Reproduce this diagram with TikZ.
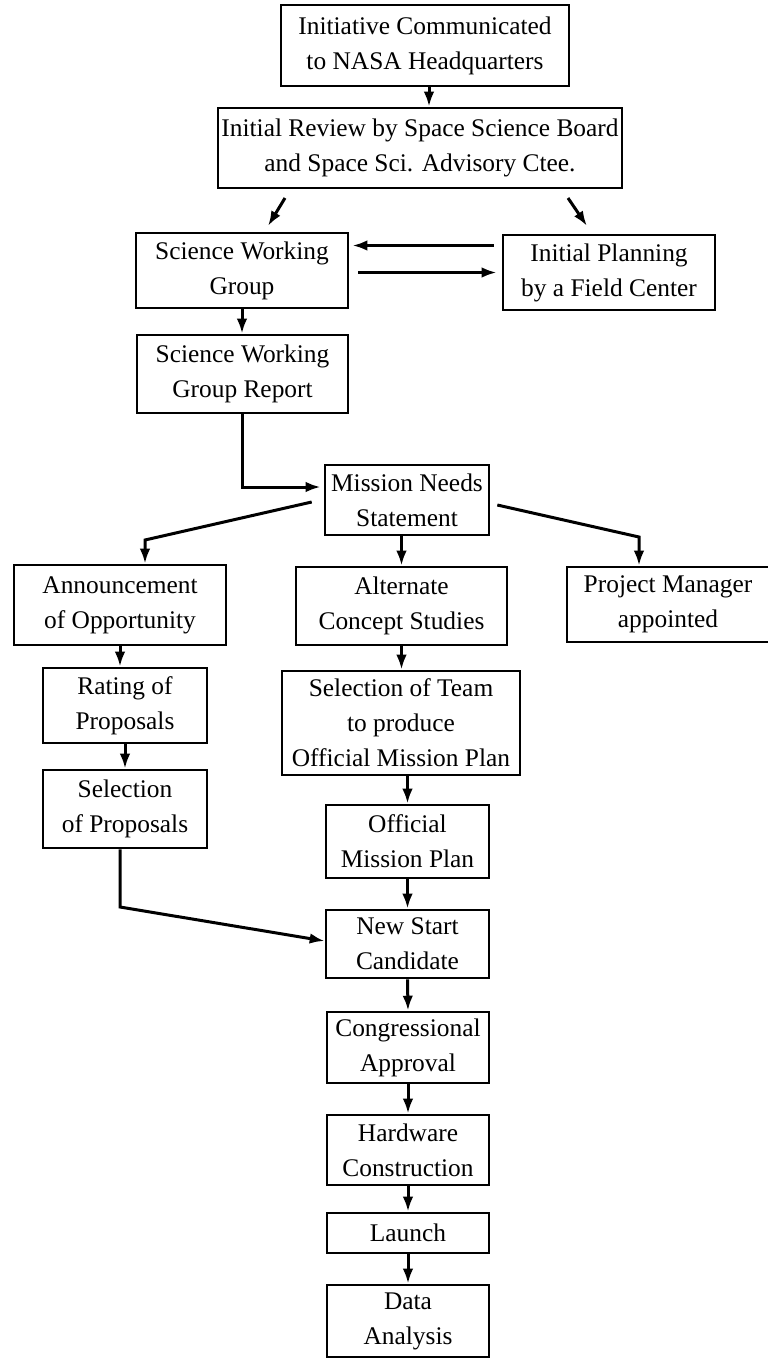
\documentclass[tikz,border=0pt]{standalone}
\usepackage{fontspec}
\setmainfont{Liberation Serif}
\usetikzlibrary{arrows.meta,calc}
\tikzset{every picture/.style={line width=2.6pt},
  stagebox/.style={draw, line width=2.6pt, inner sep=0pt, align=center,
    font=\fontsize{25.4}{35}\selectfont},
  flow/.style={line width=3pt, -{Latex[length=15pt,width=10.5pt]}}}

\begin{document}
\begin{tikzpicture}[x=1pt, y=-1pt]
    \useasboundingbox (0,0) rectangle (768,1360);

    % Anfang
    \node[stagebox, minimum width=288pt, minimum height=81pt] (init) at (425,45.5) {Initiative Communicated\\to NASA Headquarters};
    \node[stagebox, minimum width=404pt, minimum height=80pt] (review) at (420,148) {Initial Review by Space Science Board\\and Space Sci. Advisory Ctee.};
    \node[stagebox, minimum width=212pt, minimum height=75pt] (swg) at (242,270.5) {Science Working\\Group};
    \node[stagebox, minimum width=212pt, minimum height=75pt] (plan) at (609,272.5) {Initial Planning\\by a Field Center};
    \node[stagebox, minimum width=211pt, minimum height=78pt] (swgrep) at (242.5,374) {Science Working\\Group Report};
    \node[stagebox, minimum width=164pt, minimum height=70pt] (mission) at (407,500) {Mission Needs\\Statement};

    % drei Zweige
    \node[stagebox, minimum width=212pt, minimum height=80pt] (ann) at (120,605) {Announcement\\of Opportunity};
    \node[stagebox, minimum width=211pt, minimum height=78pt] (alt) at (401.5,606) {Alternate\\Concept Studies};
    \node[stagebox, minimum width=202pt, minimum height=75pt] (pm) at (668,604.5) {Project Manager\\appointed};
    \node[stagebox, minimum width=164pt, minimum height=75pt] (rating) at (125,705.5) {Rating of\\Proposals};
    \node[stagebox, minimum width=164pt, minimum height=78pt] (selprop) at (125,809) {Selection\\of Proposals};
    \node[stagebox, minimum width=238pt, minimum height=104pt] (team) at (401,723) {Selection of Team\\to produce\\Official Mission Plan};
    \node[stagebox, minimum width=163pt, minimum height=73pt] (omp) at (407.5,841.5) {Official\\Mission Plan};

    % Hauptkette
    \node[stagebox, minimum width=163pt, minimum height=68pt] (newstart) at (407.5,944) {New Start\\Candidate};
    \node[stagebox, minimum width=162pt, minimum height=71pt] (congress) at (408,1047.5) {Congressional\\Approval};
    \node[stagebox, minimum width=162pt, minimum height=70pt] (hardware) at (408,1150) {Hardware\\Construction};
    \node[stagebox, minimum width=162pt, minimum height=40pt] (launch) at (408,1233) {Launch};
    \node[stagebox, minimum width=162pt, minimum height=72pt] (data) at (408,1321) {Data\\Analysis};

    % Knickpunkte
    \coordinate (a1) at (285,198);
    \coordinate (a2) at (268,226);
    \coordinate (b1) at (568,198);
    \coordinate (b2) at (587,226);
    \coordinate (k1) at (145,540);
    \coordinate (k2) at (639,537);
    \coordinate (k3) at (120,907);

    % Pfeile
    \draw[flow] ([xshift=4pt]init.south) -- ([xshift=4pt]init.south |- review.north);
    \draw[flow] (a1) -- (a2);
    \draw[flow] (b1) -- (b2);
    \draw[flow, shorten >=3pt, shorten <=8pt] ([yshift=27pt]plan.west) -- ([yshift=27pt]plan.west -| swg.east);
    \draw[flow, shorten >=5pt, shorten <=9pt] ([yshift=-2pt]swg.east) -- ([yshift=-2pt]swg.east -| plan.west);
    \draw[flow] (swg.south) -- (swg.south |- swgrep.north);
    \draw[flow, shorten >=3pt] (swgrep.south) |- ([yshift=13pt]mission.west);
    \draw[flow] ([xshift=-12pt,yshift=-2pt]mission.west) -- (k1) -- (k1 |- ann.north);
    \draw[flow] (mission.south -| alt.north) -- (alt.north);
    \draw[flow] ([xshift=7pt,yshift=-5pt]mission.east) -- (k2) -- (k2 |- pm.north);
    \draw[flow] (ann.south) -- (ann.south |- rating.north);
    \draw[flow] (rating.south) -- (selprop.north);
    \draw[flow] (alt.south) -- (alt.south |- team.north);
    \draw[flow] (team.south -| omp.north) -- (omp.north);
    \draw[flow] (k3 |- selprop.south) -- (k3) -- ([yshift=3pt]newstart.west);
    \draw[flow] (omp.south) -- (newstart.north);
    \draw[flow] (newstart.south) -- (congress.north);
    \draw[flow] (congress.south) -- (hardware.north);
    \draw[flow] (hardware.south) -- (launch.north);
    \draw[flow] (launch.south) -- (data.north);
\end{tikzpicture}
\end{document}
